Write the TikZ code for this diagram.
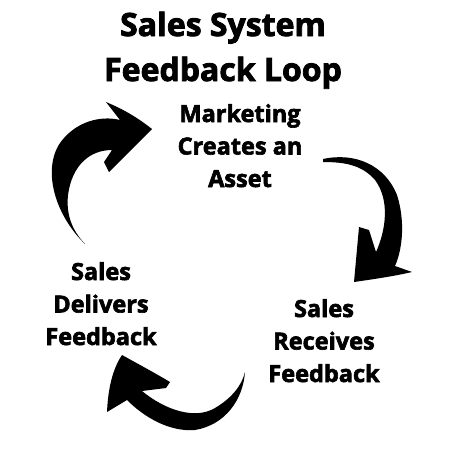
\documentclass[tikz,border=0pt]{standalone}
\usepackage{fontspec}
\setmainfont{Open Sans}[BoldFeatures={FakeBold=2.6}]
\usepackage{tikz}
\usetikzlibrary{positioning}

\begin{document}
\begin{tikzpicture}[
    x=1pt, y=-1pt,
    every node/.style={
        align=center,
        inner sep=0pt,
        anchor=base
    },
    title/.style={font=\fontsize{32}{45}\selectfont\bfseries},
    step label/.style={font=\fontsize{23.5}{32.5}\selectfont\bfseries},
    brush/.style={fill=black, draw=none}
]
\useasboundingbox[fill=white] (0,0) rectangle (450,450);

\node[title] (heading) at (223,81) {Sales System\\Feedback Loop};

\node[step label] (asset) at (240,187) {Marketing\\Creates an\\Asset};
\node[step label] (receives) at (324,382) {Sales\\Receives\\Feedback};
\node[step label] (delivers) at (101,345) {Sales\\Delivers\\Feedback};

% brush arrow: delivers -> asset
\fill[brush] (85,244) .. controls (55,215) and (42,170) .. (60,143)
    .. controls (75,122) and (100,115) .. (120,120)
    -- (106,102)
    .. controls (125,110) and (138,118) .. (152,129)
    -- (109,172) -- (104,162) -- (112,150)
    .. controls (90,150) and (72,165) .. (68,195)
    .. controls (66,215) and (72,230) .. (85,244) -- cycle;

% brush arrow: asset -> receives
\fill[brush] (323,159) .. controls (355,152) and (385,165) .. (397,195)
    .. controls (405,220) and (403,248) .. (395,266)
    -- (412,272)
    .. controls (395,276) and (375,279) .. (354,282)
    -- (359,227) -- (369,230) -- (376,252)
    .. controls (386,230) and (390,200) .. (375,180)
    .. controls (362,165) and (345,162) .. (323,162) -- cycle;

% brush arrow: receives -> delivers
\fill[brush] (245,372) .. controls (243,400) and (225,425) .. (195,430)
    .. controls (170,432) and (145,418) .. (127,400)
    -- (107,412)
    .. controls (108,390) and (112,370) .. (122,355)
    .. controls (140,365) and (155,373) .. (170,382)
    -- (166,388) -- (142,391)
    .. controls (165,410) and (195,420) .. (215,408)
    .. controls (232,398) and (242,385) .. (245,372) -- cycle;

\end{tikzpicture}
\end{document}
